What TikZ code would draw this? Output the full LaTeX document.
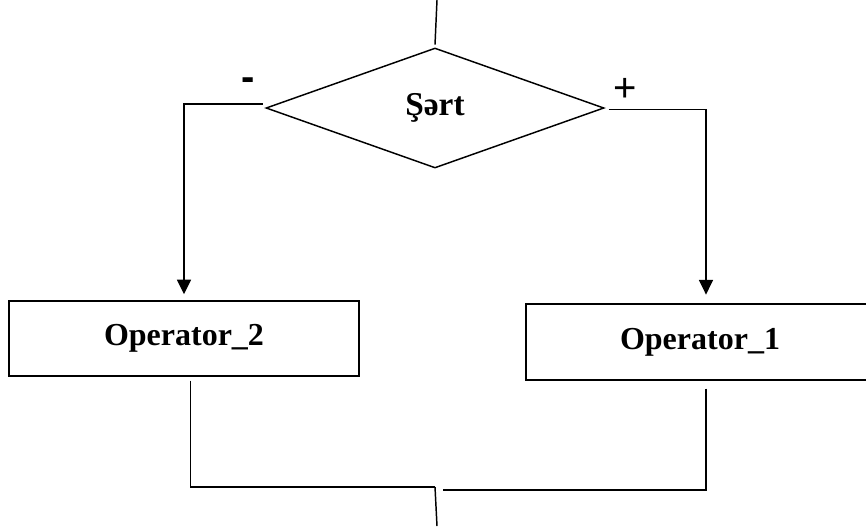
\documentclass[tikz,border=0pt]{standalone}
\usepackage{fontspec}
\setmainfont{Liberation Serif}
\newfontfamily\labelfont{Liberation Sans}
\usetikzlibrary{shapes.geometric,arrows.meta}
\begin{document}
\begin{tikzpicture}[x=0.75pt,y=-0.75pt,
  line width=1.1pt,
  cond/.style={draw,diamond,inner sep=0pt,minimum width=338*0.75pt,minimum height=120*0.75pt,font=\fontsize{25}{28}\selectfont\bfseries},
  opbox/.style={draw,rectangle,inner sep=0pt,font=\fontsize{24}{28}\selectfont\bfseries},
  sign/.style={font=\labelfont\fontsize{30}{32}\selectfont,inner sep=0pt},
  arr/.style={-{Triangle[length=11pt,width=10.5pt]}}]
\useasboundingbox (0,0) rectangle (866,526);
\clip (0,0) rectangle (866,526);
\node[cond] (sart) at (435,108) {\raisebox{3pt}{Şərt}};
\node[opbox,minimum width=350*0.75pt,minimum height=75*0.75pt] (op2) at (184,338.5) {\raisebox{4pt}{Operator\_2}};
\node[opbox,minimum width=348*0.75pt,minimum height=76*0.75pt] (op1) at (700,342) {\raisebox{4pt}{Operator\_1}};
\node[sign,font=\labelfont\fontsize{30}{32}\selectfont\bfseries] (minus) at (248,84) {-};
\node[sign] (plus) at (625,90) {+};
\coordinate (top) at (437,0);
\coordinate (ml) at (435,487);
\coordinate (mr) at (443,490);
\coordinate (bot) at (437,526);
\draw (top) -- ([yshift=2pt]sart.north);
\draw[arr,shorten >=4.5pt] ([xshift=-2pt,yshift=3pt]sart.west) -| (op2.north);
\draw[arr,shorten >=6.5pt] ([xshift=3pt,yshift=-1pt]sart.east) -| ([xshift=4.5pt]op1.north);
\draw ([xshift=5pt,yshift=-3pt]op2.south) |- (ml);
\draw ([xshift=4.5pt,yshift=-6pt]op1.south) |- (mr);
\draw (ml) -- (bot);
\end{tikzpicture}
\end{document}
